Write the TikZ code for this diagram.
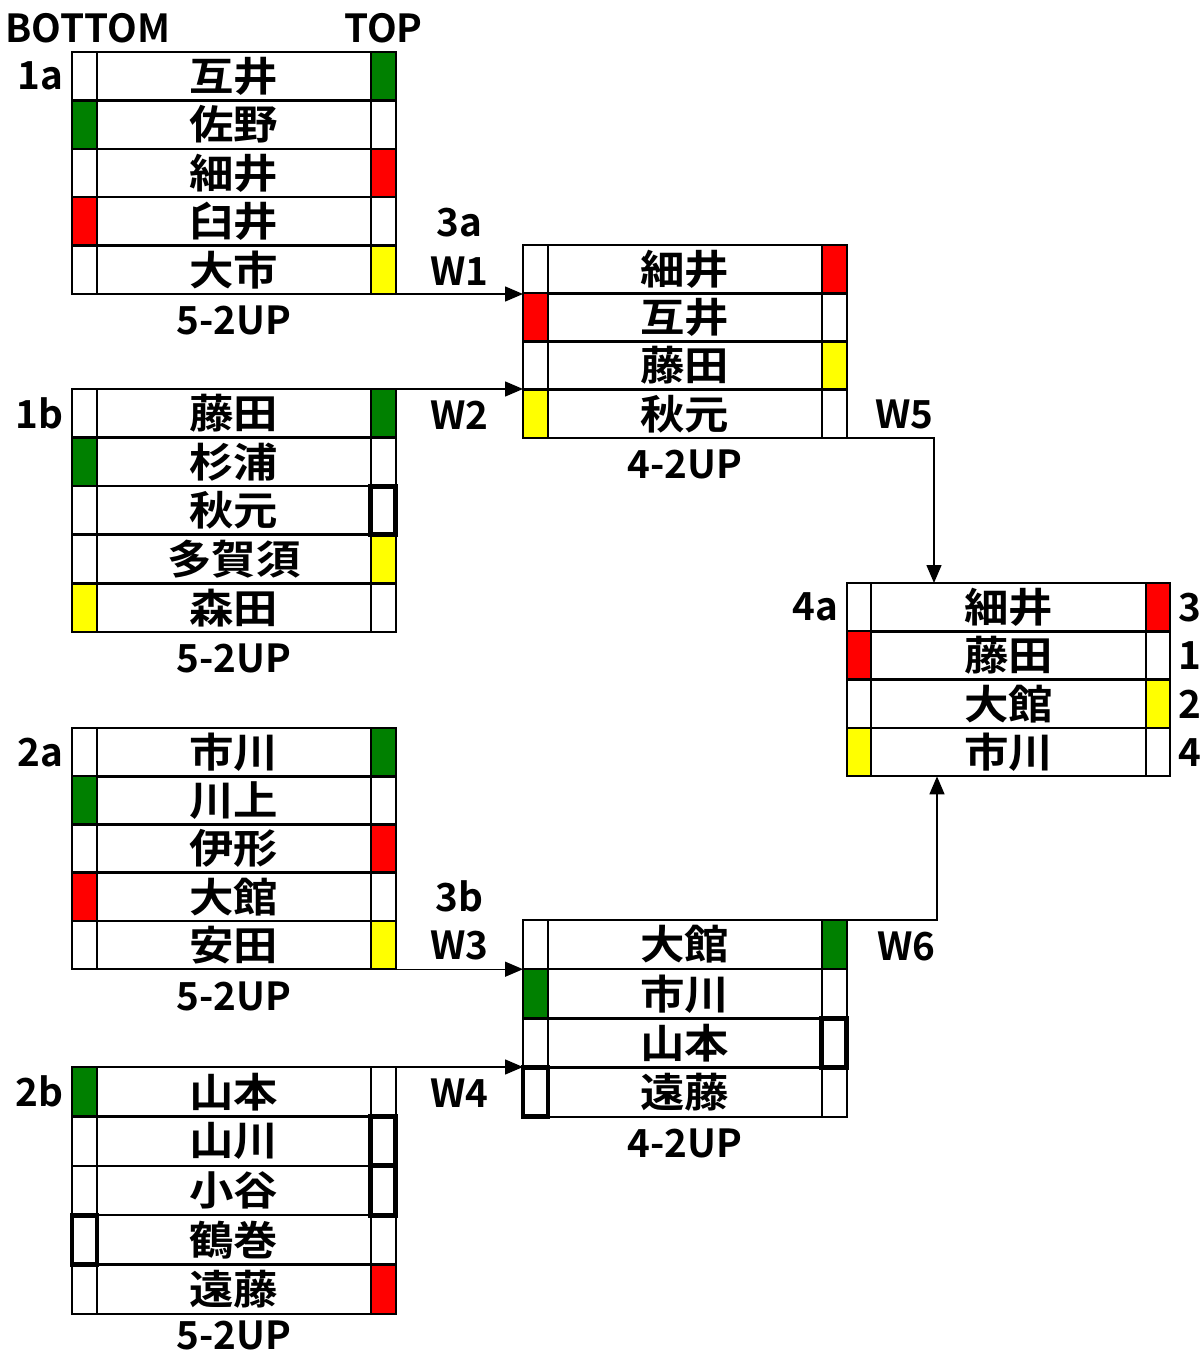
\documentclass[tikz,border=0pt]{standalone}
\usepackage{fontspec}
\newfontfamily\cjk{Noto Sans CJK JP Bold}
\newfontfamily\cjkwide{Noto Sans CJK JP Bold}[FakeStretch=1.1]
\usetikzlibrary{arrows.meta,positioning}
\definecolor{flaggreen}{RGB}{0,128,0}
\definecolor{flagred}{RGB}{255,0,0}
\definecolor{flagyellow}{RGB}{255,255,0}

\begin{document}
\begin{tikzpicture}[x=0.02cm, y=-0.02cm, >={Triangle[length=3.6mm,width=3mm]},
  every node/.style={font=\cjk\fontsize{22}{24}\selectfont, outer sep=0pt},
  namecell/.style={draw, line width=1.3pt, minimum width=5.48cm, minimum height=0.968cm, inner sep=0pt, anchor=north west, font=\cjkwide\fontsize{23}{26}\selectfont},
  flag/.style={draw, line width=1.3pt, minimum width=0.5cm, minimum height=0.968cm, inner sep=0pt},
  fG/.style={fill=flaggreen}, fR/.style={fill=flagred}, fY/.style={fill=flagyellow}, fN/.style={},
  thickbox/.style={line width=2.8pt},
  tag/.style={inner sep=0pt},
  link/.style={->, line width=0.8pt}]
\useasboundingbox (0,0) rectangle (1202,1355);

\foreach \nm/\lf/\rf [count=\i] in {互井/fN/fG, 佐野/fG/fN, 細井/fN/fR, 臼井/fR/fN, 大市/fN/fY} {
  \node[namecell] (g1a-\i) at (97,{52+(\i-1)*48.4}) {\nm};
  \node[flag, \lf, left=0pt of g1a-\i] (g1a-\i-L) {};
  \node[flag, \rf, right=0pt of g1a-\i] (g1a-\i-R) {};
}
\foreach \nm/\lf/\rf [count=\i] in {藤田/fN/fG, 杉浦/fG/fN, 秋元/fN/fN, 多賀須/fN/fY, 森田/fY/fN} {
  \node[namecell] (g1b-\i) at (97,{389+(\i-1)*48.6}) {\nm};
  \node[flag, \lf, left=0pt of g1b-\i] (g1b-\i-L) {};
  \node[flag, \rf, right=0pt of g1b-\i] (g1b-\i-R) {};
}
\foreach \nm/\lf/\rf [count=\i] in {市川/fN/fG, 川上/fG/fN, 伊形/fN/fR, 大館/fR/fN, 安田/fN/fY} {
  \node[namecell] (g2a-\i) at (97,{728+(\i-1)*48.2}) {\nm};
  \node[flag, \lf, left=0pt of g2a-\i] (g2a-\i-L) {};
  \node[flag, \rf, right=0pt of g2a-\i] (g2a-\i-R) {};
}
\foreach \nm/\lf/\rf [count=\i] in {山本/fG/fN, 山川/fN/fN, 小谷/fN/fN, 鶴巻/fN/fN, 遠藤/fN/fR} {
  \node[namecell, minimum height=0.988cm] (g2b-\i) at (97,{1067+(\i-1)*49.4}) {\nm};
  \node[flag, minimum height=0.988cm, \lf, left=0pt of g2b-\i] (g2b-\i-L) {};
  \node[flag, minimum height=0.988cm, \rf, right=0pt of g2b-\i] (g2b-\i-R) {};
}
\foreach \nm/\lf/\rf [count=\i] in {細井/fN/fR, 互井/fR/fN, 藤田/fN/fY, 秋元/fY/fN} {
  \node[namecell] (g3a-\i) at (548,{245+(\i-1)*48.2}) {\nm};
  \node[flag, \lf, left=0pt of g3a-\i] (g3a-\i-L) {};
  \node[flag, \rf, right=0pt of g3a-\i] (g3a-\i-R) {};
}
\foreach \nm/\lf/\rf [count=\i] in {大館/fN/fG, 市川/fG/fN, 山本/fN/fN, 遠藤/fN/fN} {
  \node[namecell, minimum height=0.984cm] (g3b-\i) at (548,{920+(\i-1)*49.2}) {\nm};
  \node[flag, minimum height=0.984cm, \lf, left=0pt of g3b-\i] (g3b-\i-L) {};
  \node[flag, minimum height=0.984cm, \rf, right=0pt of g3b-\i] (g3b-\i-R) {};
}
\foreach \nm/\lf/\rf/\rk [count=\i] in {細井/fN/fR/3, 藤田/fR/fN/1, 大館/fN/fY/2, 市川/fY/fN/4} {
  \node[namecell, minimum width=5.5cm] (g4a-\i) at (871,{583+(\i-1)*48.3}) {\nm};
  \node[flag, minimum width=0.48cm, \lf, left=0pt of g4a-\i] (g4a-\i-L) {};
  \node[flag, minimum width=0.48cm, \rf, right=0pt of g4a-\i] (g4a-\i-R) {};
  \node[tag, right=5pt of g4a-\i-R] (r4a-\i) {\rk};
}
\foreach \c in {g1b-3-R, g2b-2-R, g2b-3-R, g2b-4-L, g3b-3-R, g3b-4-L}
  \draw[thickbox] (\c.north west) rectangle (\c.south east);

\node[tag, above=5pt of g1a-1-L, xshift=2pt] (bottom) {BOTTOM};
\node[tag, above=5pt of g1a-1-R] (top) {TOP};
\node[tag, left=5pt of g1a-1-L] (t1a) {1a};
\node[tag, left=5pt of g1b-1-L] (t1b) {1b};
\node[tag, left=5pt of g2a-1-L] (t2a) {2a};
\node[tag, left=5pt of g2b-1-L] (t2b) {2b};
\node[tag, left=5pt of g4a-1-L] (t4a) {4a};
\node[tag, below=7pt of g1a-5] (s1a) {5-2UP};
\node[tag, below=7pt of g1b-5] (s1b) {5-2UP};
\node[tag, below=7pt of g2a-5] (s2a) {5-2UP};
\node[tag, below=4pt of g2b-5] (s2b) {5-2UP};
\node[tag, below=7pt of g3a-4] (s3a) {4-2UP};
\node[tag, below=7pt of g3b-4] (s3b) {4-2UP};

\draw[link] (g1a-5-R.south east) -- (g1a-5-R.south east -| g3a-1-L.west) node[midway, tag, above=5pt] (w1) {W1};
\draw[link] (g1b-1-R.north east) -- (g1b-1-R.north east -| g3a-1-L.west) node[midway, tag, below=7pt] (w2) {W2};
\draw[link] (g2a-5-R.south east) -- (g2a-5-R.south east -| g3b-1-L.west) node[midway, tag, above=5pt] (w3) {W3};
\draw[link] (g2b-1-R.north east) -- (g2b-1-R.north east -| g3b-1-L.west) node[midway, tag, below=7pt] (w4) {W4};
\node[tag, above=11pt of w1] (t3a) {3a};
\node[tag, above=11pt of w3] (t3b) {3b};
\draw[link] (g3a-4-R.south east) -| ([xshift=1.26cm]g4a-1-L.north east) node[pos=0.33, tag, above=5pt] (w5) {W5};
\draw[link] (g3b-1-R.north east) -| ([xshift=1.32cm]g4a-4-L.south east) node[pos=0.33, tag, below=7pt] (w6) {W6};
\end{tikzpicture}
\end{document}
